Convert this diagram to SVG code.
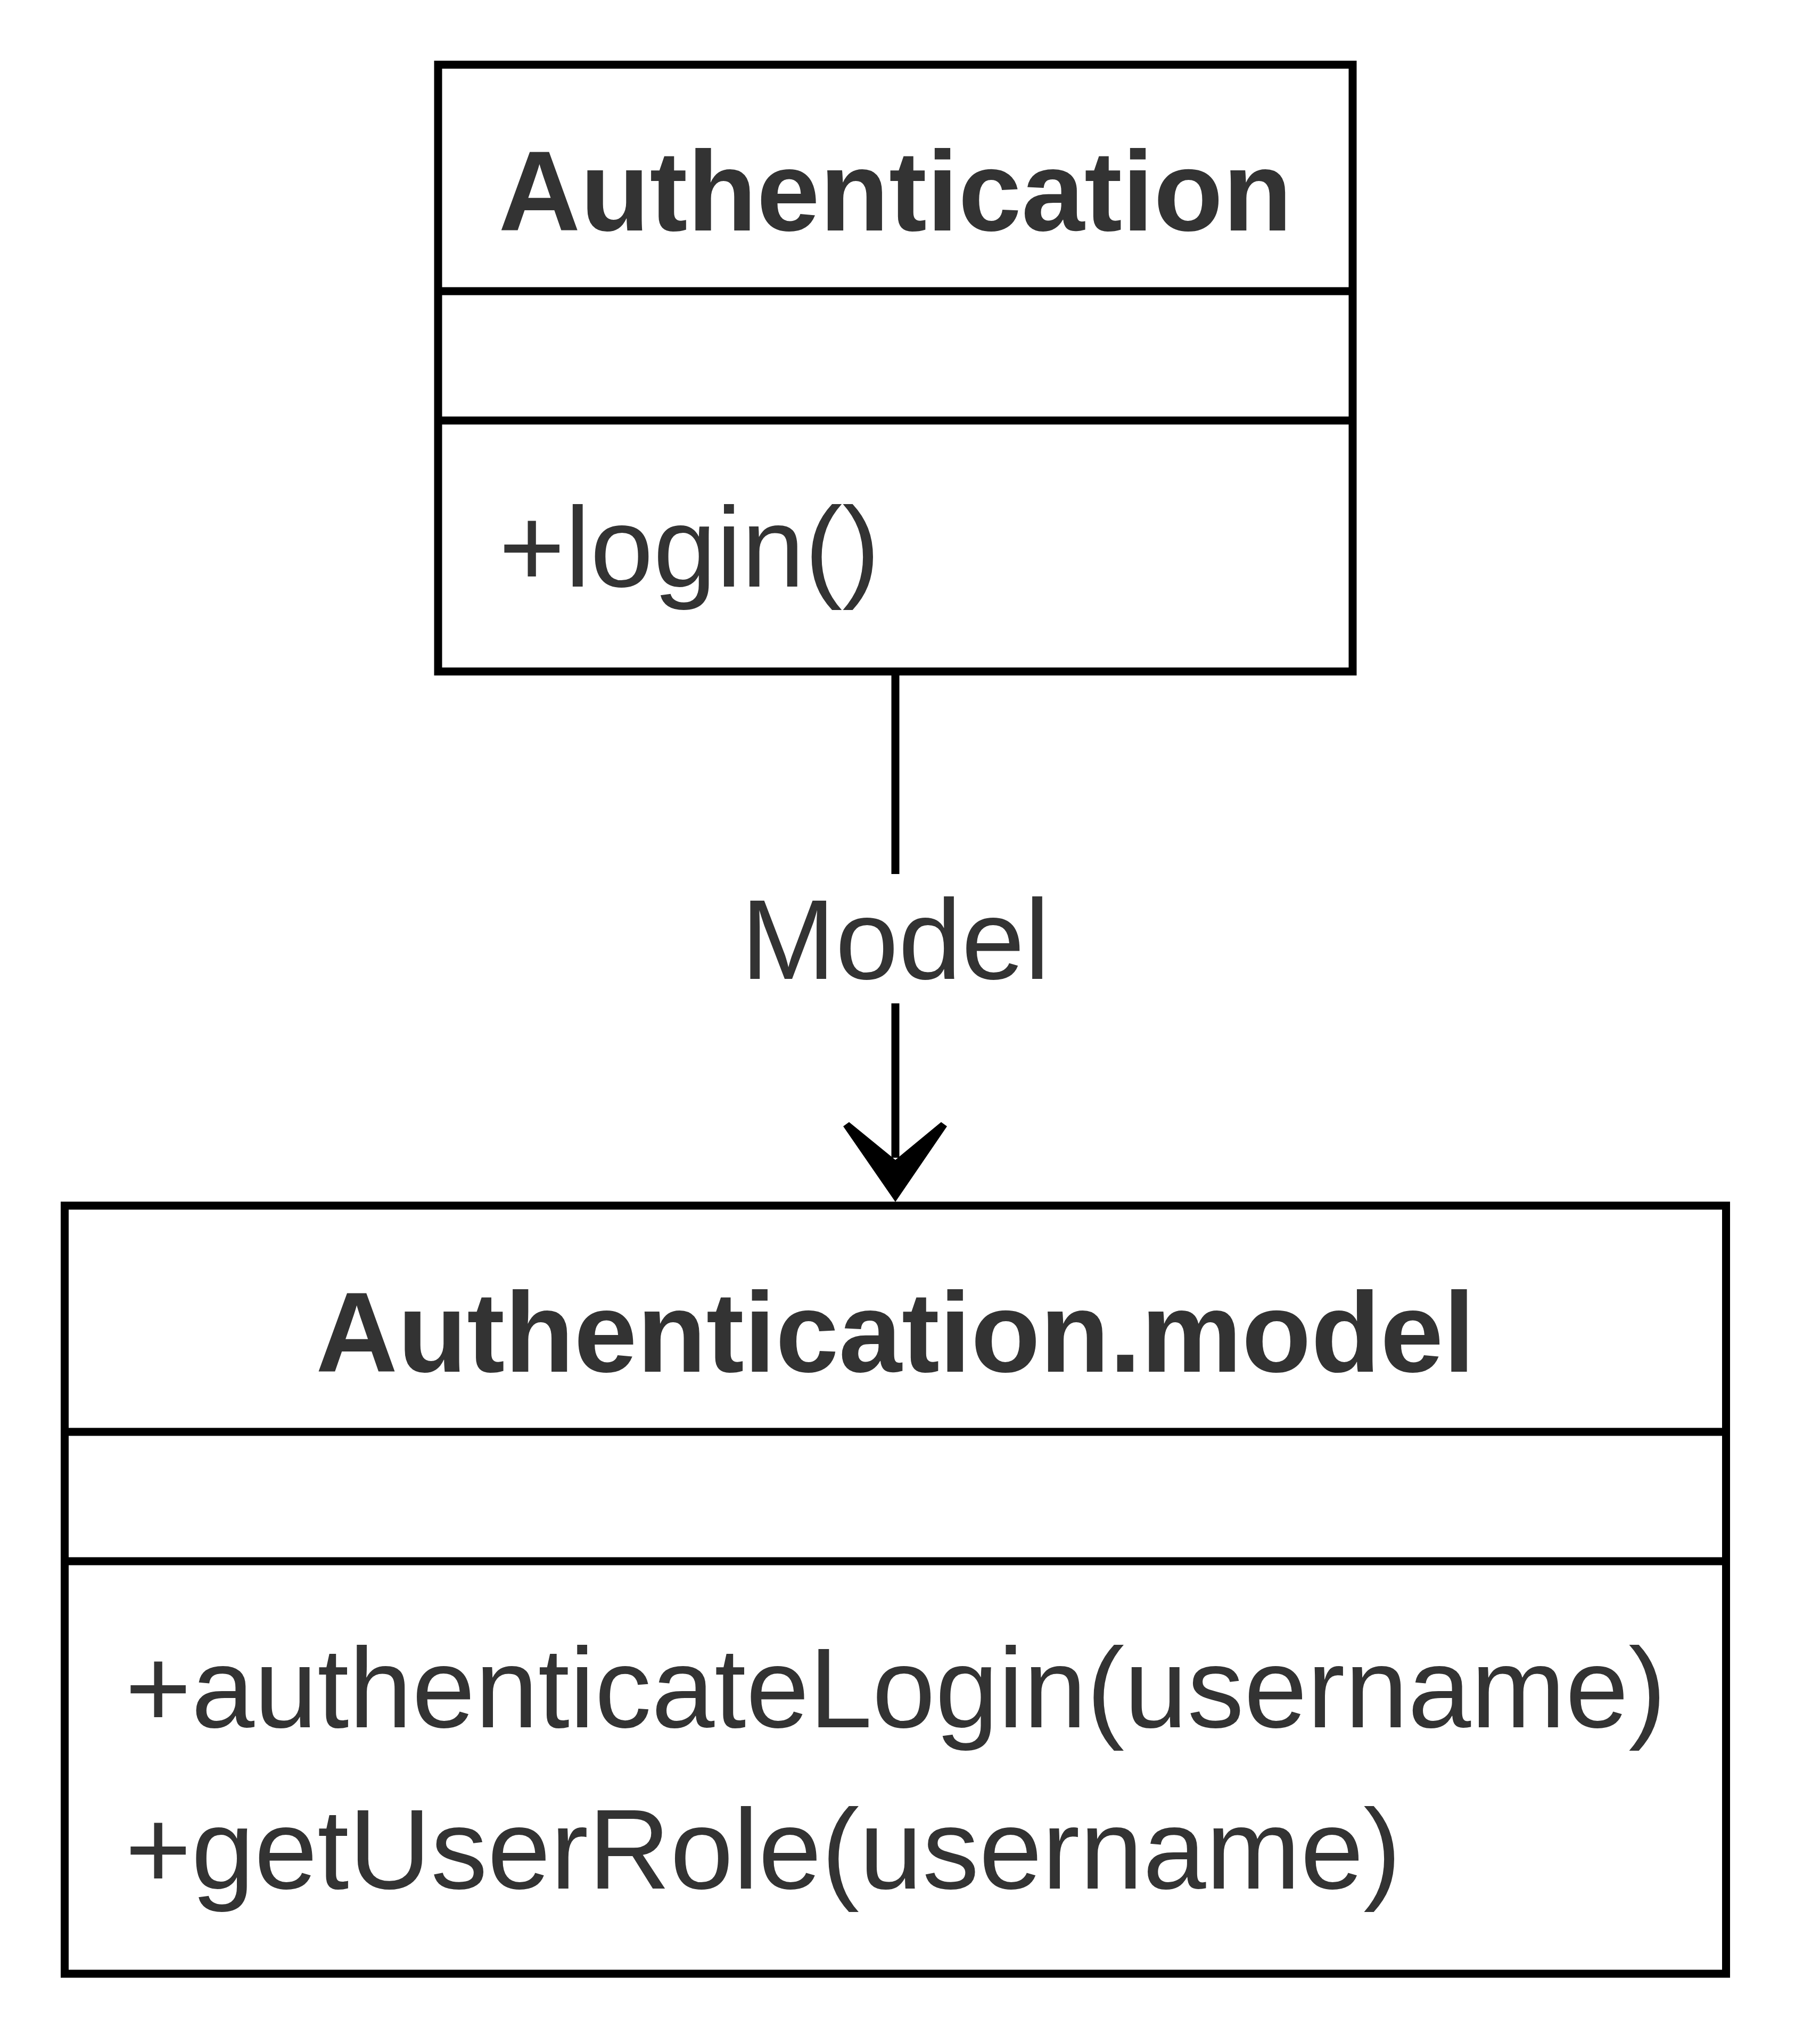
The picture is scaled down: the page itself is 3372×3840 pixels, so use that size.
<svg xmlns="http://www.w3.org/2000/svg" width="3372" height="3840" viewBox="0 0 3372 3840">
  <style>
    .box { fill: #ffffff; stroke: #000000; stroke-width: 15; }
    .div { stroke: #000000; stroke-width: 15; fill: none; }
    .edge { stroke: #000000; stroke-width: 15; fill: none; }
    .txt { font-family: "Liberation Sans", Arial, Helvetica, sans-serif; font-size: 213px; fill: #333333; }
    .title { font-weight: bold; text-anchor: middle; }
  </style>
  <rect x="0" y="0" width="3372" height="3840" fill="#ffffff"/>
  <g id="connectors">
    <g id="edge-model">
      <line class="edge" x1="1682" y1="1261.5" x2="1682" y2="2175"/>
      <polygon points="1584,2116 1595,2108 1682,2179 1768,2108 1779,2116 1682,2258" fill="#000000"/>
      <rect x="1400" y="1642" width="564" height="243" fill="#ffffff"/>
      <text class="txt" x="1682" y="1839" text-anchor="middle">Model</text>
    </g>
  </g>
  <g id="node-authentication">
    <rect class="box" x="823" y="121.5" width="1718" height="1140"/>
    <line class="div" x1="823" y1="547" x2="2541" y2="547"/>
    <line class="div" x1="823" y1="790" x2="2541" y2="790"/>
    <text class="txt title" x="1682" y="433">Authentication</text>
    <text class="txt" x="937" y="1102">+login()</text>
  </g>
  <g id="node-authentication-model">
    <rect class="box" x="121.5" y="2265" width="3121" height="1443"/>
    <line class="div" x1="121.5" y1="2690" x2="3242.5" y2="2690"/>
    <line class="div" x1="121.5" y1="2933" x2="3242.5" y2="2933"/>
    <text class="txt title" x="1682" y="2577">Authentication.model</text>
    <text class="txt" x="235" y="3245">+authenticateLogin(username)</text>
    <text class="txt" x="235" y="3548">+getUserRole(username)</text>
  </g>
</svg>
